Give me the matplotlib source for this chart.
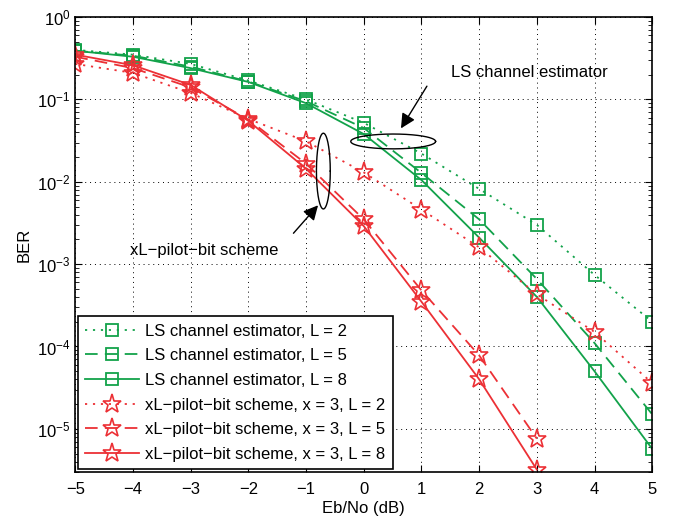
import numpy as np
import matplotlib.pyplot as plt

plt.rcParams['font.family'] = ['Liberation Sans', 'DejaVu Sans']
plt.rcParams['mathtext.fontset'] = 'custom'
plt.rcParams['mathtext.rm'] = 'Liberation Sans'

snr = [-5, -4, -3, -2, -1, 0, 1, 2, 3, 4, 5]
snr_pilot = [-5, -4, -3, -2, -1, 0, 1, 2, 3]

ls_L2 = [0.40, 0.35, 0.27, 0.17, 0.10, 0.052, 0.022, 0.0082, 0.0030, 7.4e-4, 2.0e-4]
ls_L5 = [0.39, 0.34, 0.25, 0.165, 0.095, 0.045, 0.0128, 0.0035, 6.6e-4, 1.1e-4, 1.5e-5]
ls_L8 = [0.39, 0.33, 0.24, 0.163, 0.09, 0.038, 0.0105, 0.0021, 4.0e-4, 5.0e-5, 5.7e-6]

xl_L2 = [0.27, 0.21, 0.12, 0.058, 0.031, 0.013, 0.0046, 0.0016, 4.3e-4, 1.5e-4, 3.6e-5]
xl_L5 = [0.33, 0.24, 0.14, 0.057, 0.0166, 0.0035, 4.8e-4, 7.8e-5, 7.6e-6]
xl_L8 = [0.35, 0.26, 0.15, 0.055, 0.0144, 0.0029, 3.5e-4, 4.0e-5, 3.2e-6]

green = '#12a24a'
red = '#ec3035'
dot = (0, (1.2, 3.2))
dash = (0, (7, 4))

fig = plt.figure(figsize=(6.78, 5.18), dpi=100)
ax = fig.add_axes([0.111, 0.089, 0.851, 0.878])

ax.semilogy(snr, ls_L2, color=green, ls=dot, lw=1.3, marker='s', ms=9, mfc='none', mew=1.3,
            label='LS channel estimator, L = 2')
ax.semilogy(snr, ls_L5, color=green, ls=dash, lw=1.3, marker='s', ms=9, mfc='none', mew=1.3,
            label='LS channel estimator, L = 5')
ax.semilogy(snr, ls_L8, color=green, ls='-', lw=1.3, marker='s', ms=9, mfc='none', mew=1.3,
            label='LS channel estimator, L = 8')
ax.semilogy(snr, xl_L2, color=red, ls=dot, lw=1.3, marker='*', ms=14, mfc='none', mew=1.2,
            label='xL\u2212pilot\u2212bit scheme, x = 3, L = 2')
ax.semilogy(snr_pilot, xl_L5, color=red, ls=dash, lw=1.3, marker='*', ms=14, mfc='none', mew=1.2,
            label='xL\u2212pilot\u2212bit scheme, x = 3, L = 5')
ax.semilogy(snr_pilot, xl_L8, color=red, ls='-', lw=1.3, marker='*', ms=14, mfc='none', mew=1.2,
            label='xL\u2212pilot\u2212bit scheme, x = 3, L = 8')

ax.set_xlim(-5, 5)
ax.set_ylim(3e-6, 1)
ax.set_xticks(range(-5, 6))
ax.set_xticklabels(['\u22125', '\u22124', '\u22123', '\u22122', '\u22121', '0', '1', '2', '3', '4', '5'])
ax.set_xlabel('Eb/No (dB)', fontsize=12, labelpad=3)
ax.set_ylabel('BER', fontsize=12)
ax.tick_params(which='both', direction='in', top=True, right=True, labelsize=12)
ax.tick_params(which='major', length=5)
ax.tick_params(which='minor', length=3)
ax.tick_params(axis='x', pad=7)
ax.grid(True, which='major', ls=(0, (1, 4)), color='black', lw=0.7)
for s in ax.spines.values():
    s.set_linewidth(1.2)

# annotations: ellipses drawn in log space
t = np.linspace(0, 2 * np.pi, 200)
ax.plot(0.51 + 0.735 * np.cos(t), 10 ** (-1.51 + 0.09 * np.sin(t)), color='black', lw=1)
ax.plot(-0.70 + 0.12 * np.cos(t), 10 ** (-1.87 + 0.46 * np.sin(t)), color='black', lw=1)

ax.annotate('', xy=(0.62, 10**-1.38), xytext=(1.12, 10**-0.81),
            arrowprops=dict(arrowstyle='-|>', color='black', lw=1, mutation_scale=22))
ax.text(2.87, 10**-0.67, 'LS channel estimator', fontsize=12, ha='center', va='center')
ax.annotate('', xy=(-0.76, 10**-2.26), xytext=(-1.25, 10**-2.65),
            arrowprops=dict(arrowstyle='-|>', color='black', lw=1, mutation_scale=22))
ax.text(-2.76, 10**-2.84, 'xL\u2212pilot\u2212bit scheme', fontsize=12, ha='center', va='center')

leg = ax.legend(loc='lower left', fontsize=12, handlelength=3.2, borderaxespad=0.15,
                fancybox=False, edgecolor='black', framealpha=1, labelspacing=0.58,
                handletextpad=0.4, borderpad=0.45)
leg.get_frame().set_linewidth(1.2)

fig.savefig('out.png', dpi=100)
